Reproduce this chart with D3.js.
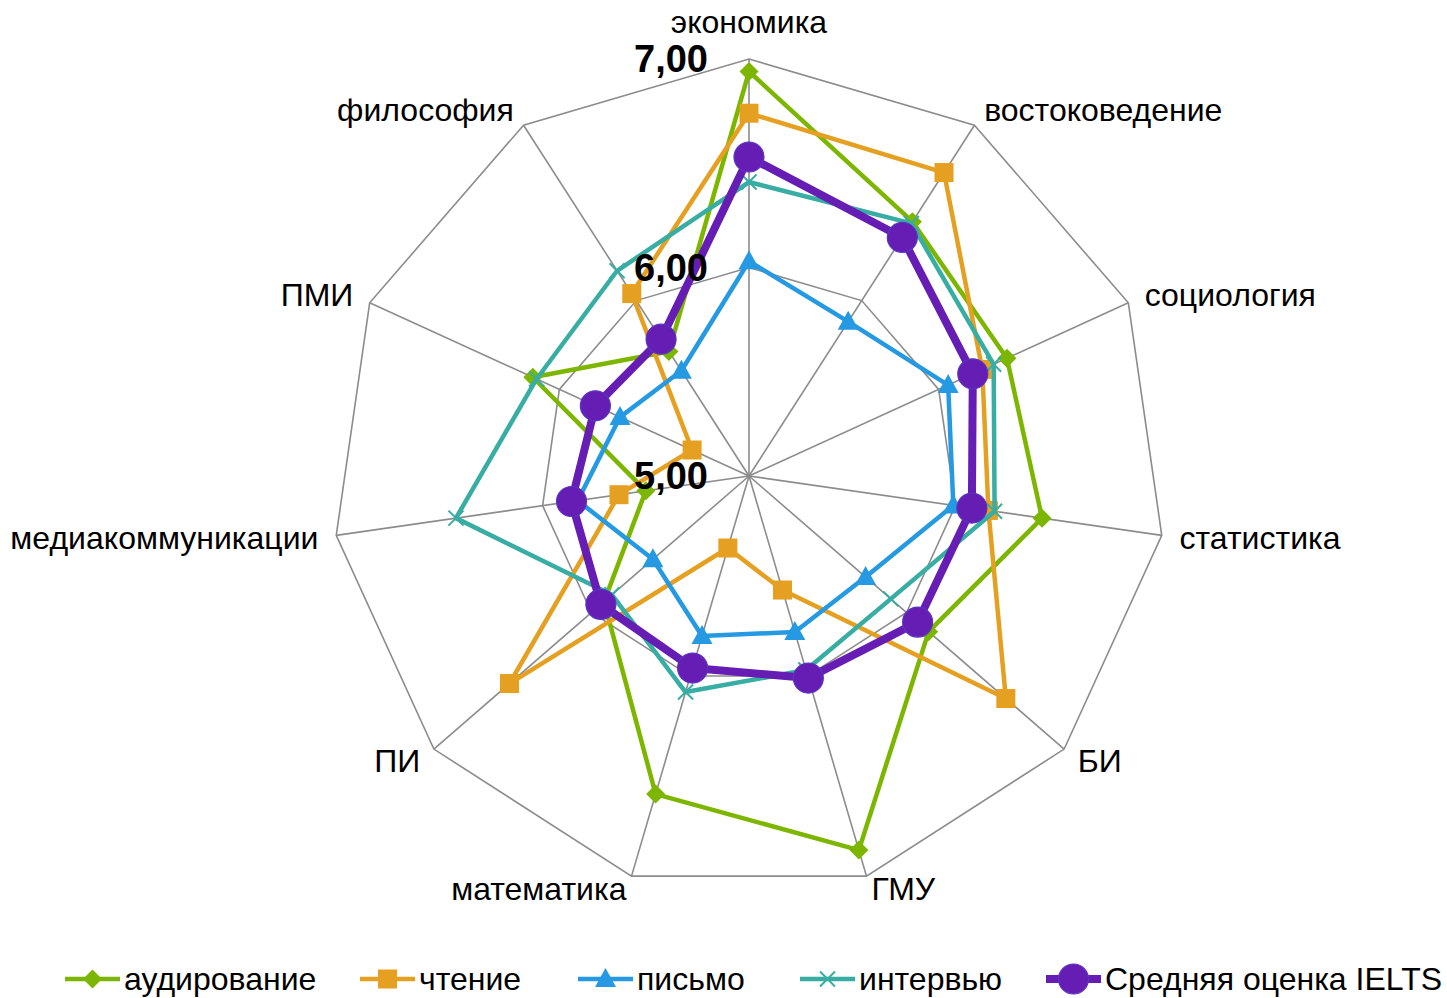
<!DOCTYPE html>
<html><head><meta charset="utf-8">
<script src="https://cdn.jsdelivr.net/npm/d3@7"></script>
<style>
html,body{margin:0;padding:0;background:#fff;}
svg{display:block;font-family:"Liberation Sans",Arial,sans-serif;}
</style></head>
<body><svg id="chart" width="1447" height="998"></svg>
<script>
const categories = ["экономика","востоковедение","социология","статистика","БИ","ГМУ","математика","ПИ","медиакоммуникации","ПМИ","философия"];
const listening = [6.94,6.45,6.36,6.42,6.14,6.87,6.59,5.92,5.50,6.14,5.71];
const reading   = [6.74,6.73,6.23,6.16,6.63,5.57,5.36,6.52,5.63,5.30,6.04];
const writing   = [6.03,5.88,6.05,5.99,5.74,5.78,5.80,5.61,5.83,5.68,5.60];
const speaking  = [6.41,6.44,6.29,6.19,5.90,5.97,6.08,5.87,6.42,6.12,6.17];
const overall   = [6.53,6.36,6.18,6.08,6.07,6.01,5.96,5.94,5.86,5.81,5.78];
const seriesNames = ["аудирование","чтение","письмо","интервью","Средняя оценка IELTS"];
const tickValues = [5,6,7];
const tickLabels = ["5,00","6,00","7,00"];

const series = [
  {name:seriesNames[0], values:listening, color:"#7db600", width:4.5, marker:"diamond"},
  {name:seriesNames[1], values:reading,   color:"#e5a021", width:4.5, marker:"square"},
  {name:seriesNames[2], values:writing,   color:"#2599e2", width:4.5, marker:"triangle"},
  {name:seriesNames[3], values:speaking,  color:"#37ada3", width:4.5, marker:"cross"},
  {name:seriesNames[4], values:overall,   color:"#661db3", width:8,   marker:"circle"}
];

const svg = d3.select("#chart");
const cx = 749, cy = 476, R = 417;
const r = d3.scaleLinear().domain([5,7]).range([0,R]);
const a = d3.scaleLinear().domain([0,categories.length]).range([0,2*Math.PI]);
const pt = (i,v) => [cx + r(v)*Math.sin(a(i)), cy - r(v)*Math.cos(a(i))];

const g = svg.append("g");
// rings
tickValues.filter(v=>v>5).forEach(v=>{
  g.append("path")
   .attr("d", d3.line()(categories.map((c,i)=>pt(i,v))) + "Z")
   .attr("fill","none").attr("stroke","#8c8c8c").attr("stroke-width",1.6);
});
// spokes
categories.forEach((c,i)=>{
  const p = pt(i,7);
  g.append("line").attr("x1",cx).attr("y1",cy).attr("x2",p[0]).attr("y2",p[1])
   .attr("stroke","#8c8c8c").attr("stroke-width",1.6);
});
// category labels
categories.forEach((c,i)=>{
  const ang = a(i), s = Math.sin(ang), co = Math.cos(ang);
  const x = cx + (R+18)*s, y = cy - (R+18)*co;
  const t = g.append("text").text(c).attr("font-size",32).attr("fill","#000")
    .attr("dominant-baseline","central");
  if (Math.abs(s) < 0.01) {
    t.attr("x",x).attr("y",cy-R-37).attr("text-anchor","middle");
  } else {
    t.attr("x",x).attr("y",y + (co < -0.9 ? -4 : 0))
     .attr("text-anchor", s>0 ? "start" : "end");
  }
});

function marker(sel, type, color, x, y){
  if (type==="diamond") {
    const h=9.5;
    sel.append("path").attr("d",`M${x},${y-h}L${x+h},${y}L${x},${y+h}L${x-h},${y}Z`).attr("fill",color);
  } else if (type==="square") {
    const h=9.5;
    sel.append("rect").attr("x",x-h).attr("y",y-h).attr("width",2*h).attr("height",2*h).attr("fill",color);
  } else if (type==="triangle") {
    sel.append("path").attr("d",`M${x},${y-11}L${x+10.5},${y+8}L${x-10.5},${y+8}Z`).attr("fill",color);
  } else if (type==="cross") {
    const h=7.5;
    sel.append("path").attr("d",`M${x-h},${y-h}L${x+h},${y+h}M${x-h},${y+h}L${x+h},${y-h}`)
      .attr("stroke",color).attr("stroke-width",2).attr("fill","none");
  } else if (type==="circle") {
    sel.append("circle").attr("cx",x).attr("cy",y).attr("r",15).attr("fill",color)
      .attr("stroke","#5a35c0").attr("stroke-width",1.2);
  }
}

const radial = d3.lineRadial().angle((d,i)=>a(i)).radius(d=>r(d)).curve(d3.curveLinearClosed);
series.forEach(s=>{
  const sg = svg.append("g");
  sg.append("path").attr("transform",`translate(${cx},${cy})`).attr("d",radial(s.values))
    .attr("fill","none").attr("stroke",s.color).attr("stroke-width",s.width).attr("stroke-linejoin","round");
  s.values.forEach((v,i)=>{ const p=pt(i,v); marker(sg,s.marker,s.color,p[0],p[1]); });
});

// tick labels
tickValues.forEach((v,k)=>{
  svg.append("text").text(tickLabels[k]).attr("x",cx-41).attr("y",cy-r(v))
    .attr("dominant-baseline","central").attr("text-anchor","end")
    .attr("font-size",38).attr("font-weight","bold").attr("fill","#000");
});

// legend
const legendX = [65, 360, 578, 800, 1046];
const ly = 979;
series.forEach((s,k)=>{
  const lg = svg.append("g");
  const x0 = legendX[k];
  lg.append("line").attr("x1",x0).attr("y1",ly).attr("x2",x0+55).attr("y2",ly)
    .attr("stroke",s.color).attr("stroke-width",s.width);
  marker(lg,s.marker,s.color,x0+27.5,ly);
  lg.append("text").text(s.name).attr("x",x0+59).attr("y",ly).attr("dominant-baseline","central")
    .attr("font-size",32).attr("fill","#000");
});
</script></body></html>
